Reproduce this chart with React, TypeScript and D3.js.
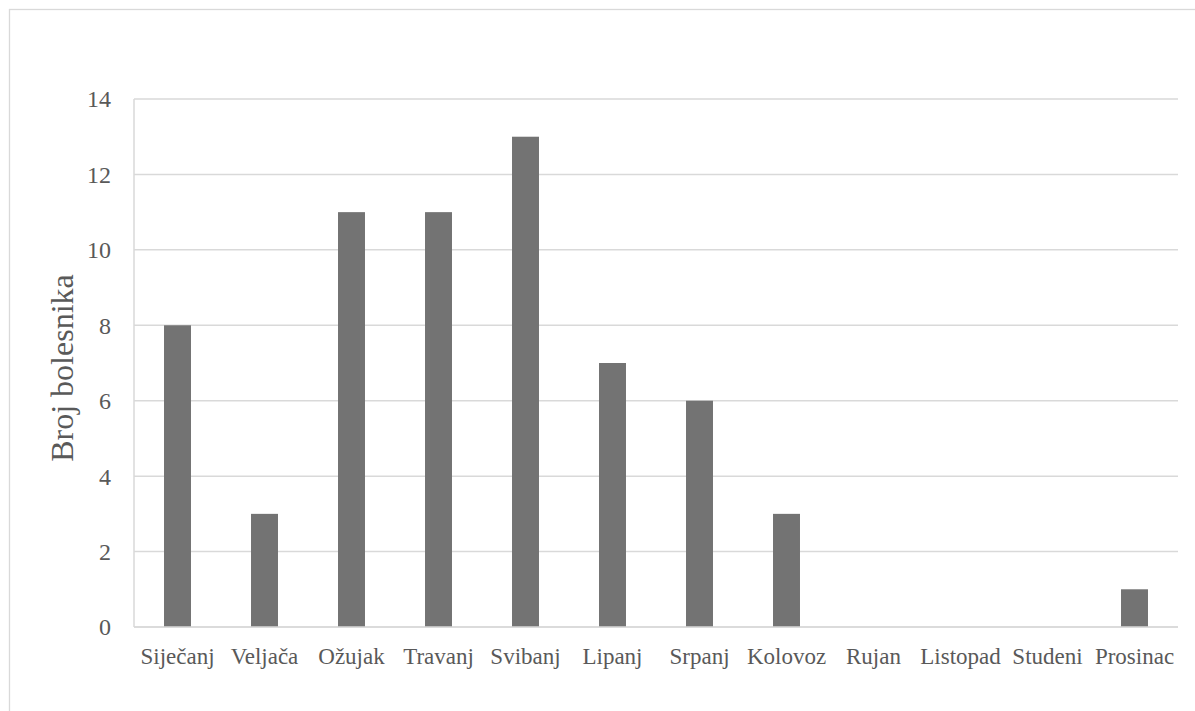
import React from "react";
import * as d3 from "d3";

const months = ["Siječanj", "Veljača", "Ožujak", "Travanj", "Svibanj", "Lipanj", "Srpanj", "Kolovoz", "Rujan", "Listopad", "Studeni", "Prosinac"];
const patients = [8, 3, 11, 11, 13, 7, 6, 3, 0, 0, 0, 1];
const yTicks = [0, 2, 4, 6, 8, 10, 12, 14];
const yTitle = "Broj bolesnika";

const W = 1195;
const H = 711;
const left = 134;
const right = 1178;
const top = 99;
const bottom = 627;

const fontStyle = { fontFamily: '"Times New Roman", "Liberation Serif", Tinos, "DejaVu Serif", serif' };

export default function App() {
  const x = d3.scaleBand<string>().domain(months).range([left, right]).paddingInner(0.69).paddingOuter(0.345);
  const y = d3.scaleLinear().domain([0, 14]).range([bottom, top]);
  const grid = "#d9d9d9";
  const text = "#595959";
  return (
    <svg width={W} height={H} style={{ position: "absolute", left: 0, top: 0, background: "#fff" }}>
      <rect x={9.5} y={9.5} width={1220} height={740} fill="#fff" stroke={grid} strokeWidth={1.3} />
      {yTicks.map((t) => (
        <g key={t}>
          <line x1={left} x2={right} y1={y(t)} y2={y(t)} stroke={grid} strokeWidth={1.5} />
          <text x={111} y={y(t)} dy="0.35em" textAnchor="end" fontSize={24} fill={text} style={fontStyle}>
            {t}
          </text>
        </g>
      ))}
      <line x1={left} x2={left} y1={top} y2={bottom} stroke={grid} strokeWidth={1.5} />
      {months.map((m, i) => (
        <rect key={m} x={x(m)} y={y(patients[i])} width={x.bandwidth()} height={bottom - y(patients[i])} fill="#737373" />
      ))}
      <line x1={left} x2={right} y1={bottom} y2={bottom} stroke={grid} strokeWidth={1.5} />
      {months.map((m) => (
        <text key={m} x={(x(m) as number) + x.bandwidth() / 2} y={664} textAnchor="middle" fontSize={23} fill={text} style={fontStyle}>
          {m}
        </text>
      ))}
      <text transform={`translate(73,368) rotate(-90)`} textAnchor="middle" fontSize={32} fill={text} style={fontStyle}>
        {yTitle}
      </text>
    </svg>
  );
}
